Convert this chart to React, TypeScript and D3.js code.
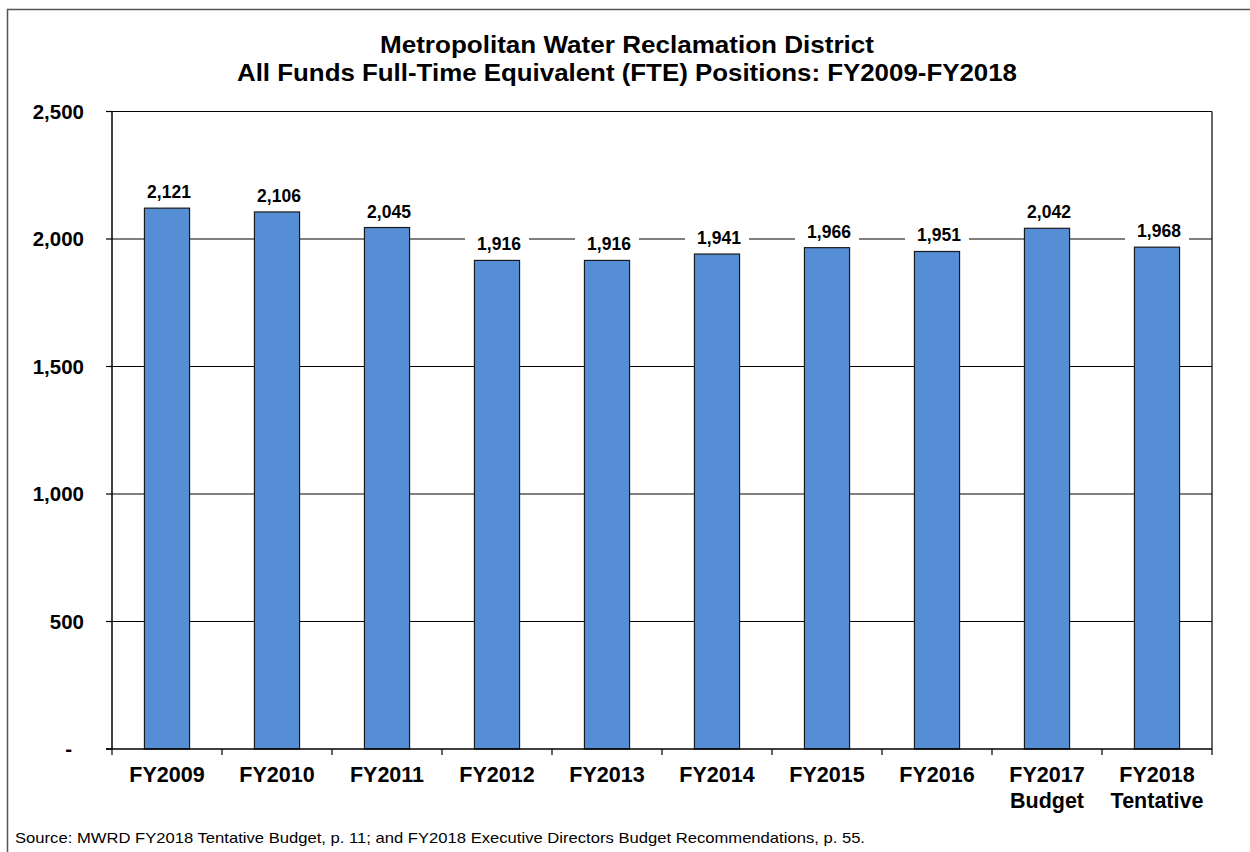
import React, { useEffect, useRef } from 'react';
import * as d3 from 'd3';

// DATA
const categories = ['FY2009', 'FY2010', 'FY2011', 'FY2012', 'FY2013', 'FY2014', 'FY2015', 'FY2016', 'FY2017\nBudget', 'FY2018\nTentative'];
const positions = [2121, 2106, 2045, 1916, 1916, 1941, 1966, 1951, 2042, 1968];
const yTicks = [0, 500, 1000, 1500, 2000, 2500];
const titleLines = ['Metropolitan Water Reclamation District', 'All Funds Full-Time Equivalent (FTE) Positions: FY2009-FY2018'];
const sourceNote = 'Source: MWRD FY2018 Tentative Budget, p. 11; and FY2018 Executive Directors Budget Recommendations, p. 55.';

export default function App() {
    const ref = useRef<SVGSVGElement>(null);

    useEffect(() => {
        // SETTINGS
        const width = 1250;
        const height = 852;
        const left = 112, right = 1212, top = 111.5, bottom = 749;
        const barColor = '#558ed5';
        const font = 'Arial, "Liberation Sans", sans-serif';

        const svg = d3.select(ref.current);
        svg.selectAll('*').remove();
        svg.attr('width', width).attr('height', height);

        // outer frame
        svg.append('rect')
            .attr('x', 7.5).attr('y', 9.5)
            .attr('width', 1300).attr('height', 900)
            .attr('fill', 'white')
            .attr('stroke', '#555').attr('stroke-width', 1.5);

        // SCALES
        const x = d3.scaleBand<string>()
            .domain(categories)
            .range([left, right])
            .paddingInner(0.59)
            .paddingOuter(0.295);
        const y = d3.scaleLinear().domain([0, 2500]).range([bottom, top]);
        const step = x.step();
        const bw = x.bandwidth();

        // TITLE (excel stretches it a bit wider than plain arial)
        const titleWidths = [494, 780];
        svg.append('g').selectAll('text')
            .data(titleLines)
            .enter().append('text')
                .attr('x', 627)
                .attr('y', (d, i) => 53 + i * 28)
                .attr('text-anchor', 'middle')
                .attr('font-family', font)
                .attr('font-weight', 'bold')
                .attr('font-size', 24)
                .attr('textLength', (d, i) => titleWidths[i])
                .attr('lengthAdjust', 'spacingAndGlyphs')
                .text(d => d);

        // gridlines
        svg.append('g').selectAll('line')
            .data(yTicks.filter(t => t > 0))
            .enter().append('line')
                .attr('x1', left).attr('x2', right)
                .attr('y1', d => y(d)).attr('y2', d => y(d))
                .attr('stroke', '#000').attr('stroke-width', 1.2);

        // plot frame right side + left axis
        svg.append('line')
            .attr('x1', right).attr('x2', right).attr('y1', top).attr('y2', bottom)
            .attr('stroke', '#000').attr('stroke-width', 1.2);
        svg.append('line')
            .attr('x1', left).attr('x2', left).attr('y1', top).attr('y2', bottom)
            .attr('stroke', '#000').attr('stroke-width', 1.5);

        // y ticks + labels
        const yAxis = svg.append('g');
        yAxis.selectAll('line')
            .data(yTicks)
            .enter().append('line')
                .attr('x1', left - 6).attr('x2', left)
                .attr('y1', d => y(d)).attr('y2', d => y(d))
                .attr('stroke', '#000').attr('stroke-width', 1.2);
        yAxis.selectAll('text')
            .data(yTicks)
            .enter().append('text')
                .attr('x', d => d === 0 ? 72 : 84)
                .attr('y', d => y(d))
                .attr('dy', '0.35em')
                .attr('text-anchor', 'end')
                .attr('font-family', font)
                .attr('font-weight', 'bold')
                .attr('font-size', 20.5)
                .text(d => d === 0 ? '-' : d3.format(',')(d));

        // BARS
        svg.append('g').selectAll('rect')
            .data(positions)
            .enter().append('rect')
                .attr('x', (d, i) => x(categories[i])!)
                .attr('y', d => y(d))
                .attr('width', bw)
                .attr('height', d => bottom - y(d))
                .attr('fill', barColor)
                .attr('stroke', '#1a1a1a')
                .attr('stroke-width', 1.2);

        // value labels with white box
        const labels = svg.append('g').selectAll('g')
            .data(positions)
            .enter().append('g')
                .attr('transform', (d, i) => `translate(${x(categories[i])! + bw / 2}, ${y(d) - 10})`);
        labels.append('rect')
            .attr('x', -32).attr('y', -16)
            .attr('width', 64).attr('height', 20)
            .attr('fill', 'white');
        labels.append('text')
            .attr('x', 2)
            .attr('text-anchor', 'middle')
            .attr('font-family', font)
            .attr('font-weight', 'bold')
            .attr('font-size', 17.5)
            .text(d => d3.format(',')(d));

        // x axis
        svg.append('line')
            .attr('x1', left - 6).attr('x2', right).attr('y1', bottom).attr('y2', bottom)
            .attr('stroke', '#000').attr('stroke-width', 1.5);
        svg.append('g').selectAll('line')
            .data(d3.range(categories.length + 1))
            .enter().append('line')
                .attr('x1', i => left + i * step).attr('x2', i => left + i * step)
                .attr('y1', bottom).attr('y2', bottom + 6)
                .attr('stroke', '#000').attr('stroke-width', 1.2);

        const xLabels = svg.append('g').selectAll('text')
            .data(categories)
            .enter().append('text')
                .attr('x', d => x(d)! + bw / 2)
                .attr('y', 782)
                .attr('text-anchor', 'middle')
                .attr('font-family', font)
                .attr('font-weight', 'bold')
                .attr('font-size', 21.5);
        xLabels.selectAll('tspan')
            .data(d => d.split('\n'))
            .enter().append('tspan')
                .attr('x', function () { return (this.parentNode as SVGTextElement).getAttribute('x'); })
                .attr('dy', (d, i) => i === 0 ? 0 : 26)
                .text(d => d);

        // source note
        svg.append('text')
            .attr('x', 15)
            .attr('y', 843)
            .attr('font-family', font)
            .attr('font-size', 15)
            .attr('textLength', 850)
            .attr('lengthAdjust', 'spacingAndGlyphs')
            .text(sourceNote);
    }, []);

    return (
        <svg ref={ref} style={{ position: 'absolute', left: 0, top: 0, display: 'block' }} />
    );
}
